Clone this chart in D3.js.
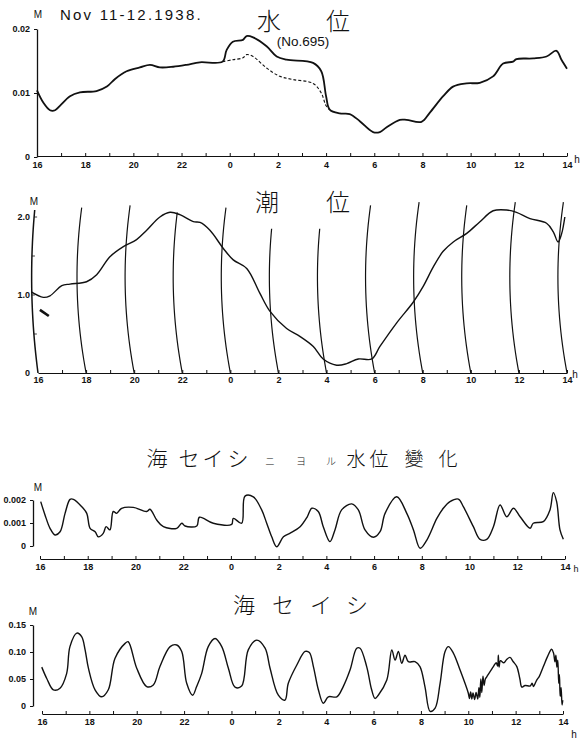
<!DOCTYPE html>
<html>
<head>
<meta charset="utf-8">
<script src="https://cdn.jsdelivr.net/npm/d3@7"></script>
<style>
  body { margin: 0; background: #fff; }
  svg { font-family: "Liberation Sans", Arial, sans-serif; }
  .tick text { font-size: 9px; font-weight: bold; fill: #111; }
  .tick line, .domain { stroke: #111; }
  .jp { font-family: "Noto Sans CJK JP", sans-serif; font-weight: 300; fill: #111; }
</style>
</head>
<body>
<div id="chart"></div>
<script>
// ---- data ----
// hours run 16h (Nov 11) .. 38h (= 14h Nov 12)
const hours = d3.range(16, 39);
const hourLabels = ['16', '18', '20', '22', '0', '2', '4', '6', '8', '10', '12', '14'];

// 水位 (No.695), metres
const waterLevel = [
  [16.0, 0.0104], [16.26, 0.0085], [16.54, 0.0073], [16.75, 0.0073], [16.95, 0.0080],
  [17.37, 0.0095], [17.78, 0.0101], [18.47, 0.0103], [18.9, 0.0110], [19.24, 0.0122],
  [19.72, 0.0134], [20.27, 0.0140], [20.69, 0.0144], [21.1, 0.0140], [21.65, 0.0141],
  [22.2, 0.0144], [22.76, 0.0148], [23.7, 0.0149], [23.87, 0.0167], [24.13, 0.0180],
  [24.55, 0.0183], [24.7, 0.0189], [24.97, 0.0187], [25.53, 0.0173], [25.95, 0.0157],
  [26.36, 0.0152], [27.46, 0.0147], [27.8, 0.0134], [28.0, 0.0095], [28.15, 0.0074],
  [28.57, 0.0068], [28.98, 0.0067], [29.4, 0.0056], [29.95, 0.0039], [30.23, 0.0039],
  [30.5, 0.0046], [31.06, 0.0058], [31.34, 0.0058], [31.96, 0.0055], [32.3, 0.0069],
  [32.86, 0.0095], [33.27, 0.0110], [33.83, 0.0115], [34.38, 0.0116], [34.93, 0.0126],
  [35.35, 0.0146], [35.76, 0.0149], [35.9, 0.0153], [36.6, 0.0154], [37.15, 0.0157],
  [37.56, 0.0166], [37.77, 0.0152], [38.0, 0.0138]
];
const waterLevelDashed = [
  [23.7, 0.0149], [24.13, 0.0152], [24.55, 0.0155], [24.7, 0.0160], [24.97, 0.0157],
  [25.53, 0.0139], [26.08, 0.0126], [26.63, 0.0121], [27.46, 0.0115], [27.8, 0.0100],
  [28.0, 0.0080], [28.15, 0.0074]
];
const waterTicks = [0, 0.01, 0.02];
const waterTickLabels = ['0', '0.01', '0.02'];

// 潮位, metres
const tideLevel = [
  [15.72, 1.04], [16.22, 0.97], [16.5, 0.99], [16.99, 1.12], [17.33, 1.14], [18.02, 1.17],
  [18.44, 1.26], [18.99, 1.49], [19.55, 1.62], [20.1, 1.71], [20.52, 1.83], [21.07, 2.0],
  [21.49, 2.06], [21.9, 2.03], [22.46, 1.94], [22.74, 1.93], [23.15, 1.83], [23.7, 1.6],
  [24.12, 1.45], [24.68, 1.34], [25.23, 1.02], [25.65, 0.79], [26.34, 0.57], [26.89, 0.47],
  [27.45, 0.34], [27.86, 0.18], [28.42, 0.10], [28.84, 0.12], [29.32, 0.18], [29.88, 0.18],
  [30.22, 0.34], [30.91, 0.64], [31.61, 0.91], [32.02, 1.11], [32.44, 1.36], [32.85, 1.56],
  [33.27, 1.68], [33.83, 1.79], [34.38, 1.94], [34.93, 2.08], [35.49, 2.09], [35.9, 2.06],
  [36.46, 1.98], [37.15, 1.92], [37.43, 1.81], [37.63, 1.68], [37.78, 1.79], [37.91, 2.0]
];
const tideStroke = [[16.08, 0.81], [16.45, 0.73]];
const tideArcHours = [16, 18, 20, 22, 24, 26, 28, 30, 32, 34, 36, 38];
const tideArcTop = [2.09, 2.12, 2.15, 2.06, 2.12, 1.85, 1.85, 2.15, 2.19, 2.15, 2.19, 2.19];
const tideTicks = [0, 1, 2];
const tideTickLabels = ['0', '1.0', '2.0'];

// 海セイシニヨル水位變化, metres
const seicheLevel = [
  [16.03, 0.00193], [16.21, 0.00135], [16.42, 0.00077], [16.63, 0.00048], [16.84, 0.00062],
  [17.05, 0.00142], [17.26, 0.00203], [17.4, 0.00203], [17.75, 0.00171], [17.96, 0.00142],
  [18.1, 0.00077], [18.31, 0.00062], [18.44, 0.0004], [18.65, 0.00055], [18.77, 0.00084],
  [18.93, 0.0007], [19.07, 0.0015], [19.21, 0.00142], [19.42, 0.00164], [19.91, 0.00168],
  [20.47, 0.0015], [20.61, 0.0016], [20.89, 0.00113], [21.17, 0.00084], [21.73, 0.00077],
  [21.94, 0.00099], [22.08, 0.00087], [22.57, 0.00087], [22.68, 0.00125], [23.26, 0.00099],
  [24.03, 0.00094], [24.1, 0.0012], [24.45, 0.00099], [24.59, 0.00217], [24.94, 0.00214],
  [25.29, 0.00157], [25.5, 0.00099], [25.71, 0.0004], [25.92, -0.00003], [26.2, 0.0004],
  [26.5, 0.00057], [26.9, 0.00084], [27.2, 0.00127], [27.39, 0.00164], [27.66, 0.0015],
  [27.87, 0.00084], [28.15, 0.00019], [28.36, 0.0007], [28.64, 0.00157], [29.06, 0.00183],
  [29.34, 0.00157], [29.62, 0.0007], [29.97, 0.00038], [30.25, 0.00062], [30.46, 0.00142],
  [30.95, 0.00214], [31.37, 0.00142], [31.65, 0.0007], [31.93, -0.0001], [32.21, 0.00026],
  [32.63, 0.0012], [32.9, 0.00164], [33.18, 0.00193], [33.53, 0.00204], [33.74, 0.00171],
  [34.16, 0.00084], [34.44, 0.00029], [34.72, 0.00029], [35.0, 0.00084], [35.28, 0.00178],
  [35.56, 0.00127], [35.84, 0.00164], [36.12, 0.00127], [36.54, 0.00077], [36.67, 0.00099],
  [37.09, 0.00106], [37.37, 0.00157], [37.51, 0.00232], [37.65, 0.00193], [37.79, 0.0007],
  [37.93, 0.00029]
];
const seicheTicks = [0, 0.001, 0.002];
const seicheTickLabels = ['0', '0.001', '0.002'];

// 海セイシ, metres
const seiche = [
  [15.99, 0.072], [16.2, 0.051], [16.48, 0.030], [16.76, 0.033], [17.04, 0.060],
  [17.18, 0.110], [17.47, 0.135], [17.68, 0.128], [17.82, 0.104], [17.96, 0.070],
  [18.24, 0.030], [18.52, 0.017], [18.8, 0.030], [19.08, 0.088], [19.51, 0.116],
  [19.64, 0.119], [20.0, 0.070], [20.42, 0.036], [20.7, 0.039], [20.98, 0.073],
  [21.41, 0.110], [21.69, 0.113], [21.9, 0.101], [22.11, 0.042], [22.36, 0.020],
  [22.53, 0.036], [22.74, 0.060], [23.02, 0.110], [23.31, 0.125], [23.59, 0.110],
  [23.87, 0.070], [24.15, 0.035], [24.43, 0.037], [24.71, 0.104], [25.07, 0.122],
  [25.42, 0.107], [25.63, 0.070], [25.98, 0.020], [26.26, 0.011], [26.4, 0.042],
  [26.76, 0.076], [27.11, 0.101], [27.29, 0.099], [27.46, 0.073], [27.67, 0.030],
  [27.88, 0.005], [28.09, 0.017], [28.45, 0.017], [28.72, 0.036], [29.01, 0.067],
  [29.29, 0.107], [29.43, 0.107], [29.71, 0.073], [29.92, 0.030], [30.06, 0.014],
  [30.2, 0.020], [30.56, 0.048], [30.77, 0.104], [30.91, 0.085], [31.05, 0.101],
  [31.19, 0.079], [31.33, 0.094], [31.47, 0.082], [31.75, 0.082], [31.96, 0.073],
  [32.17, 0.036], [32.39, -0.010], [32.6, -0.004], [32.81, 0.042], [33.02, 0.101],
  [33.16, 0.110], [33.37, 0.098], [33.65, 0.067], [34.0, 0.024], [34.05, 0.014],
  [34.1, 0.026], [34.15, 0.013], [34.2, 0.024], [34.27, 0.012], [34.33, 0.025],
  [34.4, 0.013], [34.45, 0.034], [34.49, 0.016], [34.53, 0.050], [34.57, 0.025],
  [34.62, 0.055], [34.67, 0.038], [34.72, 0.050], [34.78, 0.054], [35.06, 0.073],
  [35.18, 0.080], [35.24, 0.074], [35.27, 0.094], [35.3, 0.072], [35.36, 0.084],
  [35.5, 0.080], [35.62, 0.086], [35.76, 0.090], [35.9, 0.082], [36.05, 0.073],
  [36.18, 0.050], [36.26, 0.035], [36.4, 0.038], [36.61, 0.037], [36.7, 0.042],
  [36.75, 0.036], [36.89, 0.048], [37.0, 0.055], [37.17, 0.073], [37.35, 0.092],
  [37.52, 0.105], [37.6, 0.098], [37.66, 0.082], [37.7, 0.094], [37.74, 0.072],
  [37.78, 0.085], [37.82, 0.042], [37.85, 0.058], [37.88, 0.018], [37.92, 0.034],
  [37.96, 0.002], [37.99, 0.011]
];
const seicheBigTicks = [0, 0.05, 0.10, 0.15];
const seicheBigTickLabels = ['0', '0.05', '0.10', '0.15'];

// ---- drawing ----
const width = 586, height = 739;
const svg = d3.select('#chart').append('svg')
  .attr('width', width).attr('height', height);

const hourLabel = h => (h - 16) % 2 === 0 ? hourLabels[(h - 16) / 2] : '';

function drawXAxis(x, y0, pad) {
  const g = svg.append('g')
    .attr('transform', `translate(0,${y0})`)
    .call(d3.axisBottom(x).tickValues(hours).tickSizeInner(-3).tickSizeOuter(0)
      .tickPadding(pad).tickFormat(hourLabel));
  g.select('.domain').attr('stroke-width', 1.2);
  return g;
}

function drawYAxis(y, x0, ticks, labels, showDomain) {
  const g = svg.append('g')
    .attr('transform', `translate(${x0},0)`)
    .call(d3.axisLeft(y).tickValues(ticks).tickSizeInner(showDomain ? 3 : 0).tickSizeOuter(0)
      .tickPadding(showDomain ? 4 : 6).tickFormat((d, i) => labels[i]));
  if (!showDomain) g.select('.domain').remove();
  else g.select('.domain').attr('stroke-width', 1.3);
  return g;
}

function unitText(x, y, t, size) {
  svg.append('text').attr('x', x).attr('y', y).attr('font-size', size || 10)
    .attr('text-anchor', 'middle').attr('fill', '#111').text(t);
}

function jpText(x, y, t, size) {
  svg.append('text').attr('class', 'jp').attr('x', x).attr('y', y)
    .attr('font-size', size).attr('text-anchor', 'middle').text(t);
}

function lineFor(x, y) {
  return d3.line().x(d => x(d[0])).y(d => y(d[1])).curve(d3.curveCatmullRom.alpha(0.5));
}

// Panel 1 : 水位
{
  const x = d3.scaleLinear().domain([16, 38]).range([37, 567]);
  const y = d3.scaleLinear().domain([0, 0.02]).range([157, 29]);
  drawXAxis(x, 156, 6);
  drawYAxis(y, 37, waterTicks, waterTickLabels, true);
  svg.append('path').datum(waterLevelDashed).attr('d', lineFor(x, y))
    .attr('fill', 'none').attr('stroke', '#111').attr('stroke-width', 1.1)
    .attr('stroke-dasharray', '3,2');
  svg.append('path').datum(waterLevel).attr('d', lineFor(x, y))
    .attr('fill', 'none').attr('stroke', '#111').attr('stroke-width', 1.8);
  unitText(38, 18, 'M', 10);
  svg.append('text').attr('x', 60).attr('y', 20).attr('font-size', 15)
    .attr('letter-spacing', 2.2).attr('fill', '#111').text('Nov 11-12.1938.');
  jpText(269, 30, '水', 24);
  jpText(338, 30, '位', 24);
  svg.append('text').attr('x', 303).attr('y', 46).attr('font-size', 13.5)
    .attr('text-anchor', 'middle').attr('fill', '#111').text('(No.695)');
  unitText(577, 163, 'h', 10);
}

// Panel 2 : 潮位
{
  const x = d3.scaleLinear().domain([16, 38]).range([38, 567]);
  const y = d3.scaleLinear().domain([0, 2]).range([373, 217]);
  drawXAxis(x, 373, 4).selectAll('.tick').filter(d => d === 16).select('line').remove();
  drawYAxis(y, 36, tideTicks, tideTickLabels, false);

  // recorder time arcs (pen swing), one per even hour
  const span = y(0) - y(2.2);
  const bow = u => 32.5 * u - 29 * u * u;
  tideArcHours.forEach((h, i) => {
    const yTop = y(tideArcTop[i]);
    const pts = d3.range(0, 1.0001, 0.04).map(s => {
      const py = y(0) - s * (y(0) - yTop);
      const u = (y(0) - py) / span;
      return [x(h) - bow(u) * (h === 16 ? 0.7 : 1), py];
    });
    svg.append('path').attr('d', d3.line().curve(d3.curveBasis)(pts))
      .attr('fill', 'none').attr('stroke', '#111').attr('stroke-width', h === 16 ? 1.5 : 1.2);
  });
  // small ticks on the y arc
  d3.range(0.5, 2.01, 0.5).forEach(v => {
    const u = (y(0) - y(v)) / span;
    const px = x(16) - bow(u) * 0.7;
    svg.append('line').attr('x1', px).attr('x2', px + 3).attr('y1', y(v)).attr('y2', y(v))
      .attr('stroke', '#111').attr('stroke-width', 0.8);
  });

  svg.append('path').datum(tideLevel).attr('d', lineFor(x, y))
    .attr('fill', 'none').attr('stroke', '#111').attr('stroke-width', 1.4);
  svg.append('path').datum(tideStroke).attr('d', d3.line().x(d => x(d[0])).y(d => y(d[1])))
    .attr('fill', 'none').attr('stroke', '#111').attr('stroke-width', 2.6);
  unitText(34, 205, 'M', 10);
  jpText(267, 211, '潮', 24);
  jpText(338, 211, '位', 24);
  unitText(575, 378, 'h', 10);
}

// Panel 3 : 海セイシニヨル水位變化
{
  const x = d3.scaleLinear().domain([16, 38]).range([40, 565]);
  const y = d3.scaleLinear().domain([0, 0.002]).range([546, 500]);
  drawXAxis(x, 559, 5);
  drawYAxis(y, 33, seicheTicks, seicheTickLabels, true);
  svg.append('path').datum(seicheLevel).attr('d', lineFor(x, y))
    .attr('fill', 'none').attr('stroke', '#111').attr('stroke-width', 1.4);
  unitText(38, 491, 'M', 10);
  [['海', 157], ['セ', 189], ['イ', 213], ['シ', 238]].forEach(([c, cx]) => jpText(cx, 466, c, 21));
  [['ニ', 270], ['ヨ', 301], ['ル', 331]].forEach(([c, cx]) => jpText(cx, 465, c, 10));
  [['水', 356], ['位', 379], ['變', 414], ['化', 448]].forEach(([c, cx]) => jpText(cx, 466, c, 19));
  unitText(576, 572, 'h', 9);
}

// Panel 4 : 海セイシ
{
  const x = d3.scaleLinear().domain([16, 38]).range([42, 563]);
  const y = d3.scaleLinear().domain([0, 0.15]).range([706, 625]);
  drawXAxis(x, 714, 5);
  drawYAxis(y, 33, seicheBigTicks, seicheBigTickLabels, true);
  svg.append('path').datum(seiche).attr('d', lineFor(x, y))
    .attr('fill', 'none').attr('stroke', '#111').attr('stroke-width', 1.4);
  unitText(33, 615, 'M', 10);
  [['海', 244], ['セ', 283], ['イ', 321], ['シ', 357]].forEach(([c, cx]) => jpText(cx, 613, c, 22));
  unitText(574, 738, 'h', 10);
}
</script>
</body>
</html>
